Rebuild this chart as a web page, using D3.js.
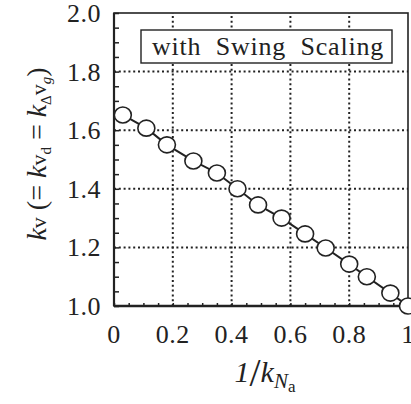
<!DOCTYPE html>
<html>
<head>
<meta charset="utf-8">
<script src="https://cdn.jsdelivr.net/npm/d3@7"></script>
<style>
  body { margin: 0; background: #fff; }
</style>
</head>
<body>
<div id="chart"></div>
<script>
const xValues = [0.03, 0.11, 0.18, 0.27, 0.35, 0.42, 0.49, 0.57, 0.65, 0.72, 0.80, 0.86, 0.94, 1.0];
const yValues = [1.652, 1.607, 1.55, 1.495, 1.454, 1.40, 1.345, 1.30, 1.246, 1.198, 1.143, 1.10, 1.044, 1.0];
const xTicks = [0, 0.2, 0.4, 0.6, 0.8, 1];
const xTickLabels = ["0", "0.2", "0.4", "0.6", "0.8", "1"];
const yTicks = [1.0, 1.2, 1.4, 1.6, 1.8, 2.0];
const legendText = "with Swing Scaling";

const width = 411, height = 404;
const margin = { top: 13, right: 3, bottom: 98, left: 114 };
const serif = "Liberation Serif";

const svg = d3.select("#chart").append("svg")
  .attr("width", width)
  .attr("height", height)
  .attr("font-family", serif);

const x = d3.scaleLinear().domain([0, 1]).range([margin.left, width - margin.right]);
const y = d3.scaleLinear().domain([1, 2]).range([height - margin.bottom, margin.top]);

const ink = "#222";

// grid
svg.append("g")
  .selectAll("line")
  .data(xTicks.slice(1, -1))
  .join("line")
    .attr("x1", d => x(d)).attr("x2", d => x(d))
    .attr("y1", y(1)).attr("y2", y(2))
    .attr("stroke", ink).attr("stroke-width", 2)
    .attr("stroke-dasharray", "2,2.8");

svg.append("g")
  .selectAll("line")
  .data(yTicks.slice(1, -1))
  .join("line")
    .attr("x1", x(0)).attr("x2", x(1))
    .attr("y1", d => y(d)).attr("y2", d => y(d))
    .attr("stroke", ink).attr("stroke-width", 2)
    .attr("stroke-dasharray", "2,2.8");

// axes: ticks pointing inward
const yAxis = d3.axisRight(y)
  .tickValues(d3.range(1, 2.0001, 0.05))
  .tickSize(5)
  .tickFormat("");
svg.append("g")
  .attr("transform", `translate(${x(0)},0)`)
  .call(yAxis)
  .call(g => g.selectAll(".tick line").attr("stroke", ink).attr("stroke-width", 1.5))
  .call(g => g.select(".domain").remove());

const xAxis = d3.axisTop(x)
  .tickValues(d3.range(0, 1.0001, 0.05))
  .tickSize(3)
  .tickFormat("");
svg.append("g")
  .attr("transform", `translate(0,${y(1)})`)
  .call(xAxis)
  .call(g => g.selectAll(".tick line").attr("stroke", ink).attr("stroke-width", 1.5))
  .call(g => g.select(".domain").remove());

// frame
svg.append("rect")
  .attr("x", x(0)).attr("y", y(2))
  .attr("width", x(1) - x(0)).attr("height", y(1) - y(2))
  .attr("fill", "none").attr("stroke", ink).attr("stroke-width", 1.6);
svg.append("line")
  .attr("x1", x(0)).attr("x2", x(1))
  .attr("y1", y(1)).attr("y2", y(1))
  .attr("stroke", ink).attr("stroke-width", 2.4);
svg.append("line")
  .attr("x1", x(0)).attr("x2", x(0))
  .attr("y1", y(1)).attr("y2", y(2))
  .attr("stroke", ink).attr("stroke-width", 2.2);

// tick labels
svg.append("g")
  .selectAll("text")
  .data(yTicks)
  .join("text")
    .attr("x", 101)
    .attr("y", d => y(d) + 9)
    .attr("text-anchor", "end")
    .attr("font-family", serif)
    .attr("font-size", 26)
    .attr("letter-spacing", 0.5)
    .attr("fill", ink)
    .text(d => d.toFixed(1));

svg.append("g")
  .selectAll("text")
  .data(xTicks)
  .join("text")
    .attr("x", d => x(d))
    .attr("y", 343)
    .attr("text-anchor", "middle")
    .attr("font-family", serif)
    .attr("font-size", 26)
    .attr("letter-spacing", 0.5)
    .attr("fill", ink)
    .text((d, i) => xTickLabels[i]);

// legend
const lg = svg.append("g");
lg.append("rect")
  .attr("x", 141).attr("y", 30)
  .attr("width", 251).attr("height", 33)
  .attr("fill", "#fff").attr("stroke", ink).attr("stroke-width", 1.4);
lg.append("text")
  .attr("x", 268).attr("y", 55)
  .attr("text-anchor", "middle")
  .attr("font-family", serif)
  .attr("font-size", 26)
  .attr("letter-spacing", 0.8)
  .attr("word-spacing", 7)
  .attr("fill", ink)
  .text(legendText);

// data line and markers
const pts = xValues.map((v, i) => [v, yValues[i]]);
svg.append("path")
  .datum(pts)
  .attr("fill", "none")
  .attr("stroke", ink)
  .attr("stroke-width", 2)
  .attr("d", d3.line().x(d => x(d[0])).y(d => y(d[1])));

svg.append("g")
  .selectAll("ellipse")
  .data(pts)
  .join("ellipse")
    .attr("cx", d => x(d[0]))
    .attr("cy", d => y(d[1]))
    .attr("rx", 8.5).attr("ry", 8)
    .attr("fill", "#fff")
    .attr("stroke", ink)
    .attr("stroke-width", 1.6);

// x label: 1/k_{N_a}
const xl = svg.append("text")
  .attr("x", 265).attr("y", 382)
  .attr("text-anchor", "middle")
  .attr("font-family", serif)
  .attr("fill", ink)
  .attr("font-size", 30);
xl.append("tspan").attr("font-style", "italic").text("1");
xl.append("tspan").attr("font-size", 40).attr("dy", 4).text("/");
xl.append("tspan").attr("font-style", "italic").attr("dy", -4).text("k");
xl.append("tspan").attr("font-style", "italic").attr("font-size", 21).attr("dy", 6).text("N");
xl.append("tspan").attr("font-size", 17).attr("dy", 4).text("a");

// y label: kV (= kV_d = k_Δ V_g)
const yl = svg.append("text")
  .attr("transform", "translate(46,154) rotate(-90)")
  .attr("text-anchor", "middle")
  .attr("font-family", serif)
  .attr("fill", ink)
  .attr("font-size", 28);
yl.append("tspan").attr("font-style", "italic").text("k");
yl.append("tspan").attr("font-size", 22).text("v");
yl.append("tspan").text(" (= ");
yl.append("tspan").attr("font-style", "italic").text("k");
yl.append("tspan").attr("font-size", 22).text("v");
yl.append("tspan").attr("font-size", 15).attr("dy", 5).text("d");
yl.append("tspan").attr("dy", -5).text(" = ");
yl.append("tspan").attr("font-style", "italic").text("k");
yl.append("tspan").attr("font-size", 15).attr("dy", 5).text("Δ");
yl.append("tspan").attr("font-size", 22).attr("dy", -5).text("v");
yl.append("tspan").attr("font-size", 15).attr("font-style", "italic").attr("dy", 5).text("g");
yl.append("tspan").attr("dy", -5).text(")");
</script>
</body>
</html>
